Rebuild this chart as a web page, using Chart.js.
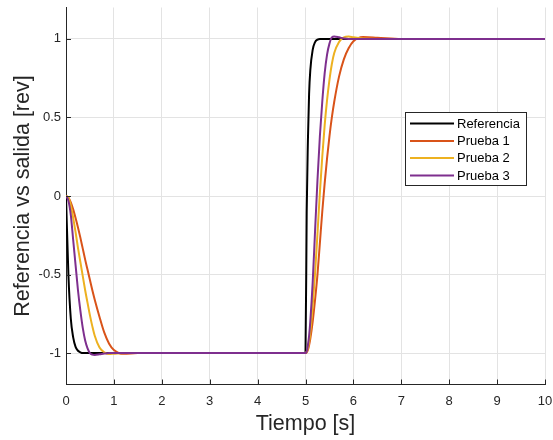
<!DOCTYPE html>
<html>
<head>
<meta charset="utf-8">
<script src="https://cdn.jsdelivr.net/npm/chart.js@4.4.1/dist/chart.umd.min.js"></script>
<style>
html,body{margin:0;padding:0;background:#fff;}
#wrap{position:relative;width:553px;height:440px;}
</style>
</head>
<body>
<div id="wrap"><canvas id="c" width="553" height="440"></canvas></div>
<script>
const tiempo = [0,0.05,0.1,0.15,0.2,0.25,0.3,0.35,0.4,0.45,
  0.5,0.55,0.6,0.7,0.8,0.9,1.0,1.2,1.5,2,
  3,4,5,
  5.025,5.05,5.075,5.1,5.15,5.2,5.25,5.3,5.35,
  5.4,5.45,5.5,5.55,5.6,5.7,5.8,5.9,6.0,6.2,6.5,
  7,8,9,10];
const referencia = [0,-0.5,-0.78,-0.9,-0.96,-0.985,-0.995,-1,-1,-1,
  -1,-1,-1,-1,-1,-1,-1,-1,-1,-1,
  -1,-1,-1,
  -0.1,0.35,0.65,0.8,0.93,0.98,0.995,1,1,
  1,1,1,1,1,1,1,1,1,1,1,
  1,1,1,1];
const prueba1 = [0,-0.01,-0.04,-0.085,-0.14,-0.2,-0.265,-0.335,-0.405,-0.47,
  -0.535,-0.6,-0.66,-0.77,-0.87,-0.94,-0.98,-1.005,-1.0,-1,
  -1,-1,-1,
  -0.995,-0.98,-0.95,-0.91,-0.8,-0.66,-0.5,-0.3,-0.1,
  0.08,0.24,0.38,0.5,0.6,0.76,0.87,0.94,0.985,1.012,1.008,
  1,1,1,1];
const prueba2 = [0,-0.01,-0.06,-0.14,-0.23,-0.33,-0.42,-0.51,-0.6,-0.68,
  -0.76,-0.83,-0.89,-0.965,-0.995,-1.006,-1.004,-1.0,-1,-1,
  -1,-1,-1,
  -0.99,-0.97,-0.93,-0.87,-0.7,-0.49,-0.24,0.02,0.25,
  0.45,0.61,0.74,0.84,0.91,0.98,1.01,1.015,1.01,1.003,1.0,
  1,1,1,1];
const prueba3 = [0,-0.03,-0.12,-0.28,-0.44,-0.6,-0.73,-0.84,-0.92,-0.97,
  -1.0,-1.01,-1.012,-1.008,-1.003,-1,-1,-1,-1,-1,
  -1,-1,-1,
  -0.99,-0.95,-0.89,-0.8,-0.55,-0.22,0.1,0.38,0.6,
  0.78,0.9,0.97,1.01,1.015,1.01,1.003,1.0,1,1,1,
  1,1,1,1];
const seriesNames = ['Referencia','Prueba 1','Prueba 2','Prueba 3'];
const seriesColors = ['#000000','#D95319','#EDB120','#7E2F8E'];
const xTicks = [0,1,2,3,4,5,6,7,8,9,10];
const yTicks = [-1,-0.5,0,0.5,1];

const seriesValues = [referencia, prueba1, prueba2, prueba3];
const datasets = seriesValues.map((vals, k) => ({
  label: seriesNames[k],
  data: tiempo.map((t, i) => ({x: t, y: vals[i]})),
  borderColor: seriesColors[k],
  backgroundColor: seriesColors[k],
  borderWidth: 2,
  pointRadius: 0,
  fill: false,
  cubicInterpolationMode: 'monotone',
  order: 4 - k
}));

const axisColor = '#262626';
const gridColor = '#e3e3e3';
const FONT = "'Liberation Sans', Arial, Helvetica, sans-serif";

const inwardTicks = {
  id: 'inwardTicks',
  afterDraw(chart) {
    const ctx = chart.ctx, a = chart.chartArea;
    const xs = chart.scales.x, ys = chart.scales.y;
    ctx.save();
    ctx.strokeStyle = axisColor;
    ctx.lineWidth = 1;
    ctx.beginPath();
    xTicks.forEach(v => {
      const px = Math.round(xs.getPixelForValue(v)) + 0.5;
      ctx.moveTo(px, a.bottom); ctx.lineTo(px, a.bottom - 5);
    });
    yTicks.forEach(v => {
      const py = Math.round(ys.getPixelForValue(v)) + 0.5;
      ctx.moveTo(a.left, py); ctx.lineTo(a.left + 5, py);
    });
    ctx.stroke();
    // legend box
    const bx = 405.5, by = 112.5, bw = 121, bh = 73;
    ctx.fillStyle = '#ffffff';
    ctx.fillRect(bx, by, bw, bh);
    ctx.strokeStyle = axisColor;
    ctx.lineWidth = 1;
    ctx.strokeRect(bx, by, bw, bh);
    ctx.font = '13px ' + FONT;
    ctx.textBaseline = 'middle';
    ctx.textAlign = 'left';
    const rows = [123.5, 141, 158, 175.5];
    chart.data.datasets.forEach((d, i) => {
      ctx.strokeStyle = d.borderColor;
      ctx.lineWidth = 2;
      ctx.beginPath();
      ctx.moveTo(410, rows[i]); ctx.lineTo(454, rows[i]);
      ctx.stroke();
      ctx.fillStyle = '#000000';
      ctx.fillText(d.label, 457, rows[i] + 0.5);
    });
    ctx.restore();
  }
};

new Chart(document.getElementById('c'), {
  type: 'line',
  data: { datasets },
  options: {
    responsive: false,
    animation: false,
    devicePixelRatio: 1,
    layout: { padding: { left: 0, right: 8, top: 7.5, bottom: 0 } },
    plugins: { legend: { display: false }, tooltip: { enabled: false } },
    scales: {
      x: {
        type: 'linear',
        min: 0, max: 10,
        afterBuildTicks: s => { s.ticks = xTicks.map(v => ({value: v})); },
        afterFit: s => { s.height = 55.5; s.paddingLeft = 0; s.paddingRight = 0; },
        grid: { color: gridColor, drawTicks: false, lineWidth: 1 },
        border: { color: axisColor, width: 1 },
        ticks: { color: axisColor, font: { family: FONT, size: 13 }, padding: 9, maxRotation: 0, autoSkip: false },
        title: { display: true, text: 'Tiempo [s]', color: axisColor, font: { family: FONT, size: 21.5 }, padding: { top: 0, bottom: 3 } }
      },
      y: {
        type: 'linear',
        min: -1.2, max: 1.2,
        afterBuildTicks: s => { s.ticks = yTicks.map(v => ({value: v})); },
        afterFit: s => { s.width = 66; s.paddingTop = 0; s.paddingBottom = 0; },
        grid: { color: gridColor, drawTicks: false, lineWidth: 1 },
        border: { color: axisColor, width: 1 },
        ticks: { color: axisColor, font: { family: FONT, size: 13 }, padding: 5, autoSkip: false,
          callback: v => String(v) },
        title: { display: true, text: 'Referencia vs salida [rev]', color: axisColor, font: { family: FONT, size: 21.5 }, padding: { top: 10, bottom: 0 } }
      }
    }
  },
  plugins: [inwardTicks]
});
</script>
</body>
</html>
